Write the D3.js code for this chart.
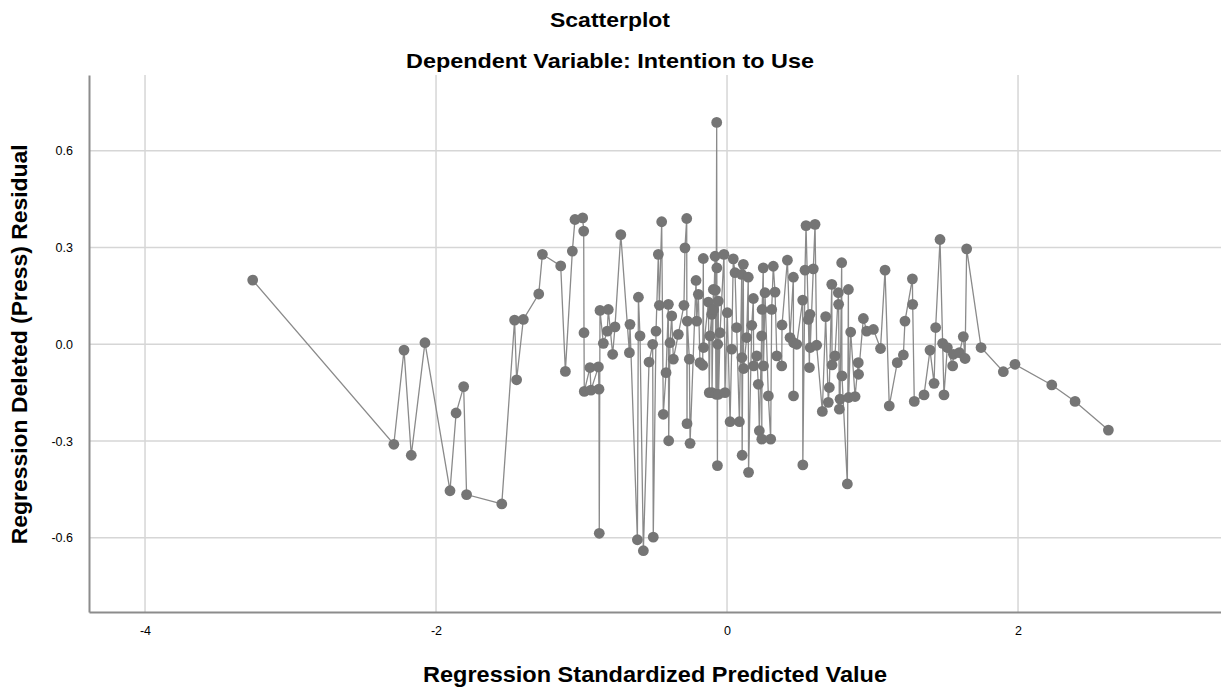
<!DOCTYPE html>
<html>
<head>
<meta charset="utf-8">
<script src="https://cdn.jsdelivr.net/npm/d3@7"></script>
<style>
  body { margin: 0; background: #fff; }
  text { font-family: "Liberation Sans", Arial, sans-serif; fill: #000; }
</style>
</head>
<body>
<div id="chart"></div>
<script>
// predicted values (x) and press residuals (y), in the order the line joins them
const predicted = [
  -3.26, -2.29, -2.22, -2.17, -2.076, -1.904, -1.862, -1.81, -1.79, -1.548,
  -1.46, -1.446, -1.40, -1.294, -1.269, -1.143, -1.111, -1.063, -1.045, -0.992,
  -0.985, -0.983, -0.981, -0.942, -0.935, -0.884, -0.88, -0.878, -0.873, -0.85,
  -0.823, -0.816, -0.786, -0.77, -0.73, -0.671, -0.667, -0.616, -0.609, -0.598,
  -0.575, -0.536, -0.511, -0.507, -0.488, -0.472, -0.465, -0.449, -0.438, -0.419,
  -0.403, -0.401, -0.392, -0.38, -0.369, -0.335, -0.296, -0.289, -0.277, -0.275,
  -0.273, -0.259, -0.254, -0.213, -0.208, -0.197, -0.186, -0.167, -0.163, -0.161,
  -0.128, -0.122, -0.117, -0.105, -0.103, -0.094, -0.092, -0.082, -0.08, -0.076,
  -0.071, -0.07, -0.066, -0.064, -0.06, -0.058, -0.048, -0.021, -0.014, 0.002,
  0.021, 0.032, 0.043, 0.055, 0.066, 0.085, 0.101, 0.102, 0.104, 0.112,
  0.114, 0.135, 0.146, 0.148, 0.17, 0.181, 0.183, 0.204, 0.215, 0.222,
  0.238, 0.239, 0.241, 0.249, 0.251, 0.261, 0.284, 0.3, 0.307, 0.318,
  0.33, 0.342, 0.376, 0.378, 0.415, 0.433, 0.456, 0.457, 0.458, 0.479,
  0.52, 0.521, 0.536, 0.543, 0.559, 0.566, 0.57, 0.572, 0.593, 0.605,
  0.616, 0.655, 0.678, 0.696, 0.703, 0.72, 0.722, 0.742, 0.765, 0.767,
  0.772, 0.777, 0.788, 0.79, 0.827, 0.834, 0.836, 0.85, 0.88, 0.902,
  0.904, 0.937, 0.96, 1.006, 1.055, 1.086, 1.115, 1.17, 1.212, 1.223,
  1.274, 1.276, 1.287, 1.354, 1.395, 1.423, 1.434, 1.464, 1.482, 1.491,
  1.514, 1.551, 1.556, 1.597, 1.624, 1.636, 1.647, 1.746, 1.899, 1.979,
  2.232, 2.392, 2.621
];
const residual = [
  0.199, -0.31, -0.018, -0.344, 0.005, -0.454, -0.213, -0.131, -0.466, -0.495,
  0.075, -0.11, 0.077, 0.156, 0.279, 0.243, -0.084, 0.289, 0.387, 0.392,
  0.351, 0.036, -0.146, -0.072, -0.142, -0.07, -0.139, -0.586, 0.105, 0.003,
  0.041, 0.108, -0.031, 0.054, 0.34, -0.026, 0.062, -0.606, 0.146, 0.026,
  -0.64, -0.055, 0.0, -0.598, 0.041, 0.279, 0.121, 0.38, -0.217, -0.088,
  0.124, -0.299, 0.005, 0.088, -0.046, 0.031, 0.121, 0.299, 0.39, -0.246,
  0.072, -0.046, -0.307, 0.198, 0.072, 0.155, -0.057, -0.065, 0.266, -0.01,
  0.131, -0.15, 0.026, 0.093, -0.15, 0.17, 0.108, 0.273, 0.168, -0.155,
  0.688, 0.237, -0.376, 0.0, 0.134, -0.155, 0.036, 0.279, -0.15, 0.098,
  -0.24, -0.015, 0.265, 0.222, 0.052, -0.24, 0.217, -0.041, -0.344, 0.248,
  -0.075, 0.021, 0.208, -0.397, 0.059, 0.142, -0.067, -0.036, -0.124, -0.268,
  0.026, -0.294, 0.108, 0.237, -0.067, 0.16, -0.16, -0.294, 0.108, 0.242,
  0.162, -0.036, -0.067, 0.06, 0.261, 0.021, 0.208, -0.16, 0.005, 0.0,
  0.137, -0.374, 0.23, 0.368, 0.077, -0.072, 0.093, -0.01, 0.234, 0.372,
  -0.003, -0.208, 0.086, -0.18, -0.134, 0.186, -0.064, -0.036, 0.16, 0.124,
  -0.201, -0.17, 0.253, -0.098, -0.433, 0.17, -0.165, 0.038, -0.162, -0.057,
  -0.093, 0.08, 0.041, 0.046, -0.013, 0.23, -0.191, -0.057, -0.033, 0.072,
  0.203, 0.124, -0.177, -0.157, -0.018, -0.121, 0.052, 0.325, 0.003, -0.157,
  -0.01, -0.067, -0.031, -0.026, 0.024, -0.044, 0.296, -0.01, -0.085, -0.062,
  -0.126, -0.177, -0.266
];
const xTicks = [-4, -2, 0, 2];
const yTicks = [-0.6, -0.3, 0.0, 0.3, 0.6];

const width = 1221, height = 687;
const margin = {left: 89, right: 0, top: 75, bottom: 75};

const points = predicted.map((d, i) => ({x: d, y: residual[i]}));

const svg = d3.select('#chart').append('svg')
  .attr('width', width)
  .attr('height', height);

const xScale = d3.scaleLinear()
  .domain([-4.385, 3.395])
  .range([margin.left, width - margin.right]);
const yScale = d3.scaleLinear()
  .domain([-0.83, 0.835])
  .range([height - margin.bottom, margin.top]);

// grid lines
svg.append('g')
  .selectAll('line')
  .data(xTicks)
  .enter()
  .append('line')
  .attr('x1', d => xScale(d)).attr('x2', d => xScale(d))
  .attr('y1', margin.top).attr('y2', height - margin.bottom)
  .attr('stroke', '#d6d6d6')
  .attr('stroke-width', 1.5);
svg.append('g')
  .selectAll('line')
  .data(yTicks)
  .enter()
  .append('line')
  .attr('x1', margin.left).attr('x2', width - margin.right)
  .attr('y1', d => yScale(d)).attr('y2', d => yScale(d))
  .attr('stroke', '#d6d6d6')
  .attr('stroke-width', 1.5);

// axes, no tick marks
const xAxis = svg.append('g')
  .attr('transform', 'translate(0,' + (height - margin.bottom) + ')')
  .call(d3.axisBottom(xScale).tickValues(xTicks).tickSize(0).tickPadding(14).tickFormat(d3.format('d')));
const yAxis = svg.append('g')
  .attr('transform', 'translate(' + margin.left + ',0)')
  .call(d3.axisLeft(yScale).tickValues(yTicks).tickSize(0).tickPadding(16).tickFormat(d3.format('.1f')));
[xAxis, yAxis].forEach(g => {
  g.select('.domain').attr('stroke', '#8c8c8c').attr('stroke-width', 2);
  g.selectAll('text')
    .style('font-family', '"Liberation Sans", Arial, sans-serif')
    .style('font-size', '12.5px')
    .attr('fill', '#222');
});
xAxis.selectAll('text').text(d => d < 0 ? '-' + Math.abs(d) : d);
yAxis.selectAll('text').text(d => d < 0 ? '-' + Math.abs(d).toFixed(1) : d.toFixed(1));

// connecting line
const line = d3.line()
  .x(d => xScale(d.x))
  .y(d => yScale(d.y));
svg.append('path')
  .datum(points)
  .attr('d', line)
  .attr('fill', 'none')
  .attr('stroke', '#8a8a8a')
  .attr('stroke-width', 1.3);

svg.append('g')
  .selectAll('circle')
  .data(points)
  .enter()
  .append('circle')
  .attr('cx', d => xScale(d.x))
  .attr('cy', d => yScale(d.y))
  .attr('r', 5.4)
  .attr('fill', '#757575');

// titles (stretched a little to the widths in the original)
svg.append('text')
  .text('Scatterplot')
  .attr('x', 610).attr('y', 27)
  .attr('text-anchor', 'middle')
  .attr('textLength', 120).attr('lengthAdjust', 'spacingAndGlyphs')
  .style('font-size', '21px').style('font-weight', 'bold');
svg.append('text')
  .text('Dependent Variable: Intention to Use')
  .attr('x', 610).attr('y', 68)
  .attr('text-anchor', 'middle')
  .attr('textLength', 408).attr('lengthAdjust', 'spacingAndGlyphs')
  .style('font-size', '21px').style('font-weight', 'bold');
svg.append('text')
  .text('Regression Standardized Predicted Value')
  .attr('x', (margin.left + width - margin.right) / 2).attr('y', 682)
  .attr('text-anchor', 'middle')
  .attr('textLength', 464).attr('lengthAdjust', 'spacingAndGlyphs')
  .style('font-size', '21.5px').style('font-weight', 'bold');
svg.append('text')
  .text('Regression Deleted (Press) Residual')
  .attr('transform', 'translate(27,' + yScale(0) + ') rotate(-90)')
  .attr('text-anchor', 'middle')
  .attr('textLength', 400).attr('lengthAdjust', 'spacingAndGlyphs')
  .style('font-size', '21.5px').style('font-weight', 'bold');
</script>
</body>
</html>
